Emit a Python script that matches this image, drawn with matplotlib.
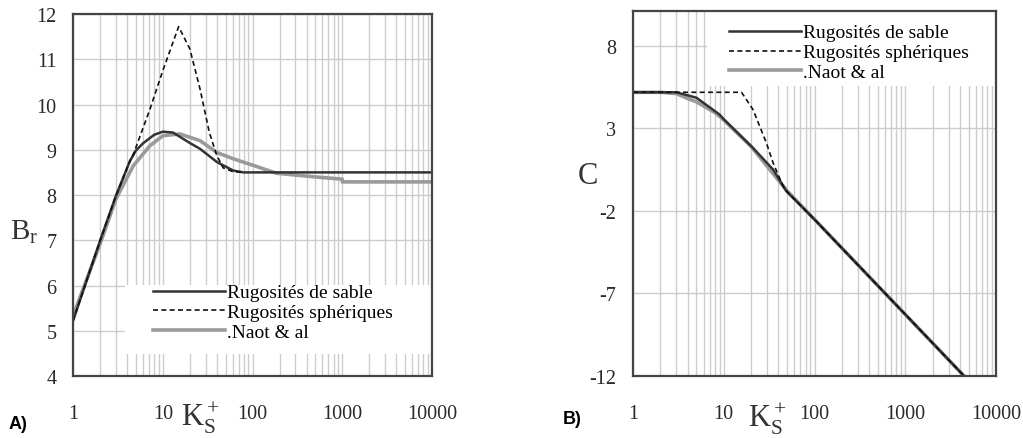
import matplotlib
matplotlib.use("Agg")
import matplotlib.pyplot as plt
from matplotlib.patches import Rectangle
from matplotlib.ticker import FixedLocator, NullFormatter
from matplotlib.lines import Line2D

plt.rcParams["font.family"] = "Liberation Serif"
plt.rcParams["mathtext.fontset"] = "custom"
plt.rcParams["mathtext.rm"] = "Liberation Serif"
plt.rcParams["mathtext.it"] = "Liberation Serif:italic"
plt.rcParams["axes.unicode_minus"] = False

# ---- panel A : B_r vs ks+ ----
a_sand_x = [1, 2, 3, 4.3, 5, 6, 8, 10, 13, 20, 26, 40, 61, 79, 10000]
a_sand_y = [5.22, 6.99, 7.98, 8.75, 8.98, 9.14, 9.33, 9.40, 9.38, 9.15, 9.02, 8.73, 8.54, 8.50, 8.50]
a_sph_x = [1, 2, 3, 4.3, 4.7, 7.2, 10, 15, 20, 26, 33, 40, 47, 60, 79]
a_sph_y = [5.22, 6.99, 7.98, 8.75, 8.90, 9.90, 10.75, 11.72, 11.23, 10.34, 9.38, 8.87, 8.60, 8.52, 8.50]
a_naot_x = [1, 2, 3, 4.7, 7.2, 10, 15.5, 26, 40, 61, 100, 185, 500, 1000, 1000.1, 10000]
a_naot_y = [5.33, 6.92, 7.91, 8.65, 9.09, 9.31, 9.35, 9.20, 8.94, 8.80, 8.66, 8.48, 8.40, 8.35, 8.29, 8.29]

# ---- panel B : C vs ks+ ----
b_sand_x = [1, 3, 5, 9, 10, 21, 35, 49, 100, 1000, 4450]
b_sand_y = [5.18, 5.18, 4.85, 3.83, 3.55, 1.81, 0.50, -0.81, -2.52, -8.27, -12.0]
b_sph_x = [1, 15.7, 21, 29.5, 35, 45, 50, 100, 1000, 4450]
b_sph_y = [5.18, 5.18, 4.13, 2.11, 0.90, -0.50, -0.85, -2.52, -8.27, -12.0]
b_naot_x = [1, 2, 3, 3.9, 5, 8, 10, 20, 50, 100, 1000, 4450]
b_naot_y = [5.18, 5.18, 5.10, 4.83, 4.60, 3.95, 3.50, 1.90, -0.80, -2.52, -8.27, -12.0]

x_ticks = [1, 10, 100, 1000, 10000]
x_labels = ["1", "10", "100", "1000", "10000"]
a_yticks = [4, 5, 6, 7, 8, 9, 10, 11, 12]
b_yticks = [-12, -7, -2, 3, 8]
labels = ["Rugosités de sable", "Rugosités sphériques", ".Naot & al"]

SAND = dict(color="#333333", lw=1.8)
SPH = dict(color="#111111", lw=1.2, ls=(0, (3, 2)))
NAOT = dict(color="#9a9a9a", lw=2.6)

fig = plt.figure(figsize=(10.23, 4.39), dpi=100)
axA = fig.add_axes([0.0714, 0.1412, 0.351, 0.8246])
axB = fig.add_axes([0.6188, 0.1412, 0.3548, 0.8314])


def style(ax, yticks, ylim):
    ax.set_xscale("log")
    ax.set_xlim(1, 10000)
    ax.set_ylim(*ylim)
    minors = [m * 10 ** d for d in range(4) for m in range(2, 10)]
    ax.xaxis.set_minor_locator(FixedLocator(minors))
    ax.xaxis.set_minor_formatter(NullFormatter())
    ax.set_xticks(x_ticks)
    ax.set_xticklabels(x_labels)
    ax.set_yticks(yticks)
    ax.grid(which="both", axis="x", color="#cccccc", lw=1.0, zorder=0)
    ax.grid(which="major", axis="y", color="#cccccc", lw=1.0, zorder=0)
    ax.set_axisbelow(True)
    ax.tick_params(which="both", length=0, labelsize=14.5, colors="#2a2a2a")
    ax.tick_params(axis="x", pad=20)
    ax.tick_params(axis="y", pad=12)
    for s in ax.spines.values():
        s.set_color("#444444")
        s.set_linewidth(1.6)
        s.set_zorder(5)


def add_legend(ax, rect, anchor):
    ax.add_patch(Rectangle(rect[:2], rect[2], rect[3], transform=ax.transAxes,
                           facecolor="white", edgecolor="none", zorder=1))
    handles = [Line2D([], [], **SAND), Line2D([], [], **SPH), Line2D([], [], **NAOT)]
    ax.legend(handles, labels, loc="upper left", bbox_to_anchor=anchor, frameon=False,
              fontsize=14, handlelength=3.7, handletextpad=0.1, labelspacing=0.12,
              borderpad=0, borderaxespad=0)


style(axA, a_yticks, (4, 12))
axA.plot(a_naot_x, a_naot_y, zorder=2, **NAOT)
axA.plot(a_sand_x, a_sand_y, zorder=3, **SAND)
axA.plot(a_sph_x, a_sph_y, zorder=3, **SPH)
add_legend(axA, (0.145, 0.061, 0.855, 0.19), (0.222, 0.255))
axA.text(-0.135, 0.40, r"$\mathrm{B_r}$", transform=axA.transAxes, fontsize=21,
         color="#333333", ha="center", va="center")
axA.text(0.355, -0.115, r"$\mathrm{K_S^+}$", transform=axA.transAxes, fontsize=22,
         color="#333333", ha="center", va="center")
fig.text(0.008, 0.032, "A)", fontsize=13, fontweight="bold", family="Liberation Sans",
         ha="left", va="center")

style(axB, b_yticks, (-12, 10.1))
axB.plot(b_naot_x, b_naot_y, zorder=2, **NAOT)
axB.plot(b_sand_x, b_sand_y, zorder=3, **SAND)
axB.plot(b_sph_x, b_sph_y, zorder=3, **SPH)
add_legend(axB, (0.204, 0.795, 0.796, 0.205), (0.265, 0.965))
axB.text(-0.125, 0.55, "C", transform=axB.transAxes, fontsize=22,
         color="#333333", ha="center", va="center")
axB.text(0.37, -0.115, r"$\mathrm{K_S^+}$", transform=axB.transAxes, fontsize=22,
         color="#333333", ha="center", va="center")
fig.text(0.550, 0.045, "B)", fontsize=13, fontweight="bold", family="Liberation Sans",
         ha="left", va="center")

fig.savefig("out.png", dpi=100)
